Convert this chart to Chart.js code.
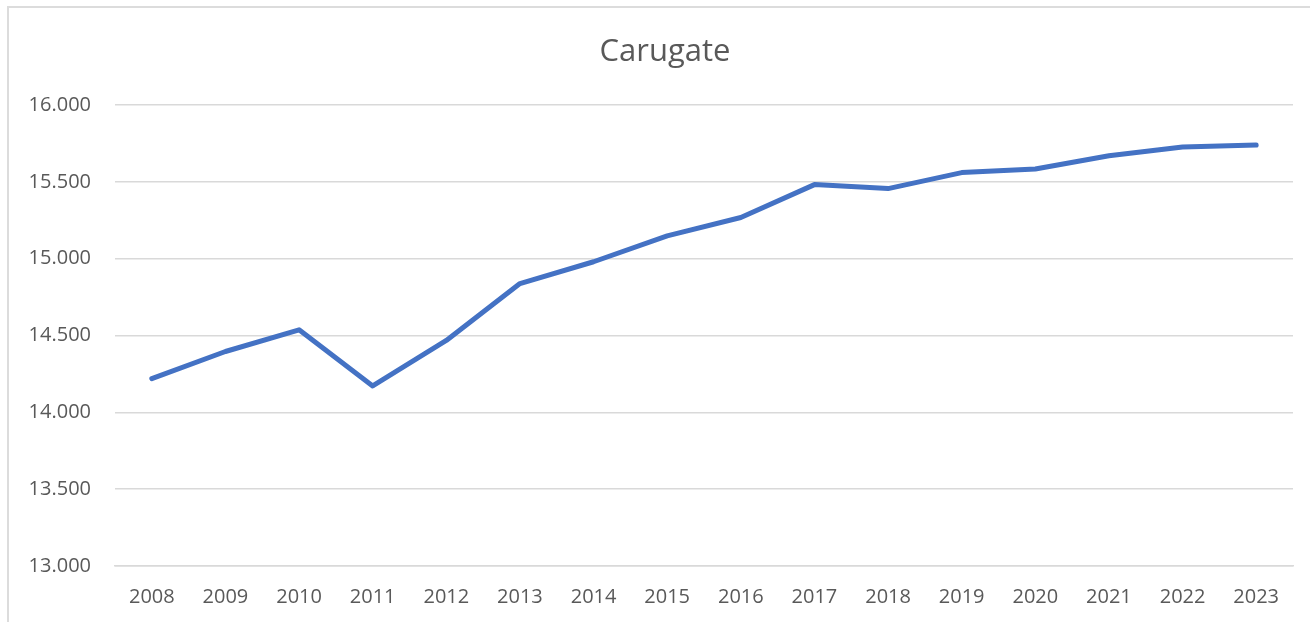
<!DOCTYPE html>
<html>
<head>
<meta charset="utf-8">
<script src="https://cdn.jsdelivr.net/npm/chart.js@4/dist/chart.umd.min.js"></script>
<style>
  html, body { margin: 0; padding: 0; background: #fff; overflow: hidden; }
  #frame { position: absolute; left: 7px; top: 6px; width: 1320px; height: 640px; border: 2px solid #dcdcdc; box-sizing: border-box; }
  #wrap { position: absolute; left: 0; top: 0; width: 1310px; height: 622px; }
  #title { position: absolute; left: 465px; width: 400px; top: 29px; text-align: center;
           font: 31px "Open Sans", "DejaVu Sans", sans-serif; line-height: 40px; color: #595959; }
</style>
</head>
<body>
<div id="frame"></div>
<div id="wrap"><canvas id="chart" width="1310" height="622"></canvas></div>
<div id="title">Carugate</div>
<script>
// values
const years = ['2008', '2009', '2010', '2011', '2012', '2013', '2014', '2015',
               '2016', '2017', '2018', '2019', '2020', '2021', '2022', '2023'];
const population = [14219, 14396, 14537, 14172, 14468, 14838, 14980, 15148,
                    15268, 15482, 15456, 15560, 15584, 15670, 15727, 15740];
const yTicks = [13000, 13500, 14000, 14500, 15000, 15500, 16000];

const textColor = '#595959';
const gridColor = '#d9d9d9';
const fontFamily = '"Open Sans", "DejaVu Sans", sans-serif';

function itNumber(v) {
    return String(v).replace(/\B(?=(\d{3})+(?!\d))/g, '.');
}

new Chart(document.getElementById('chart').getContext('2d'), {
    type: 'line',
    data: {
        labels: years,
        datasets: [{
            label: 'Carugate',
            data: population,
            borderColor: '#4472C4',
            borderWidth: 5,
            borderCapStyle: 'round',
            borderJoinStyle: 'round',
            pointRadius: 0,
            tension: 0,
            fill: false
        }]
    },
    options: {
        responsive: false,
        animation: false,
        layout: { padding: { left: 0, right: 17, top: 105, bottom: 0 } },
        plugins: {
            legend: { display: false },
            tooltip: { enabled: false },
            title: { display: false }
        },
        scales: {
            x: {
                offset: true,
                grid: { display: false, drawTicks: false, offset: true },
                border: { display: true, color: gridColor, width: 1.5 },
                ticks: {
                    color: textColor,
                    font: { family: fontFamily, size: 20 },
                    padding: 19,
                    maxRotation: 0,
                    autoSkip: false
                },
                afterFit: scale => { scale.height = 56; }
            },
            y: {
                min: yTicks[0],
                max: yTicks[yTicks.length - 1],
                afterBuildTicks: scale => { scale.ticks = yTicks.map(v => ({ value: v })); },
                grid: { color: gridColor, lineWidth: 1.5, drawTicks: false },
                border: { display: false },
                ticks: {
                    color: textColor,
                    font: { family: fontFamily, size: 20 },
                    padding: 24,
                    callback: v => itNumber(v)
                },
                afterFit: scale => { scale.width = 115; }
            }
        }
    }
});
</script>
</body>
</html>
